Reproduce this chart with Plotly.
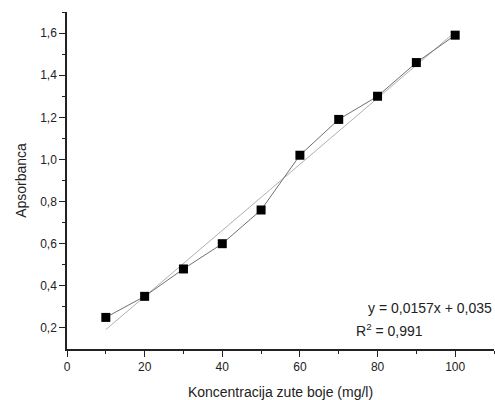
import plotly.graph_objects as go

conc = [10, 20, 30, 40, 50, 60, 70, 80, 90, 100]
absorb = [0.25, 0.35, 0.48, 0.60, 0.76, 1.02, 1.19, 1.30, 1.46, 1.59]
slope = 0.0157
intercept = 0.035
fit_x = [conc[0], conc[-1]]
fit_y = [slope * v + intercept for v in fit_x]

fig = go.Figure()
fig.add_trace(go.Scatter(x=fit_x, y=fit_y, mode="lines",
                         line=dict(color="#b0b0b0", width=1), showlegend=False))
fig.add_trace(go.Scatter(x=conc, y=absorb, mode="lines+markers",
                         line=dict(color="#707070", width=1),
                         marker=dict(symbol="square", size=9, color="black"),
                         showlegend=False))

font = "Liberation Sans, Arial, sans-serif"
fig.update_layout(
    width=495, height=400,
    margin=dict(l=67, r=1, t=12, b=51),
    paper_bgcolor="white", plot_bgcolor="white",
    separators=",.",
    font=dict(family=font, size=12, color="#222"),
    xaxis=dict(range=[0, 110], tickvals=[0, 20, 40, 60, 80, 100],
               ticks="outside", ticklen=6, tickwidth=1.2, tickcolor="#222",
               showline=True, linecolor="#222", linewidth=1.5,
               showgrid=False, zeroline=False,
               minor=dict(tickvals=[10, 30, 50, 70, 90, 110], ticks="outside", ticklen=3, tickcolor="#222"),
               title=dict(text="Koncentracija zute boje (mg/l)", font=dict(size=14), standoff=15)),
    yaxis=dict(range=[0.1, 1.7], tickvals=[0.2, 0.4, 0.6, 0.8, 1.0, 1.2, 1.4, 1.6],
               tickformat=".1f",
               ticks="outside", ticklen=6, tickwidth=1.2, tickcolor="#222",
               showline=True, linecolor="#222", linewidth=1.5,
               showgrid=False, zeroline=False,
               minor=dict(tickvals=[0.3, 0.5, 0.7, 0.9, 1.1, 1.3, 1.5, 1.7], ticks="outside", ticklen=3, tickcolor="#222"),
               title=dict(text="Apsorbanca", font=dict(size=14), standoff=10)),
    annotations=[
        dict(x=1, y=0.092, xref="paper", yref="paper", xanchor="right", yanchor="bottom",
             text="y = 0,0157x + 0,035", showarrow=False, font=dict(size=14, color="#222")),
        dict(x=0.672, y=0.025, xref="paper", yref="paper", xanchor="left", yanchor="bottom",
             text="R<sup>2</sup> = 0,991", showarrow=False, font=dict(size=14, color="#222")),
    ],
)
fig.write_html("out.html")
